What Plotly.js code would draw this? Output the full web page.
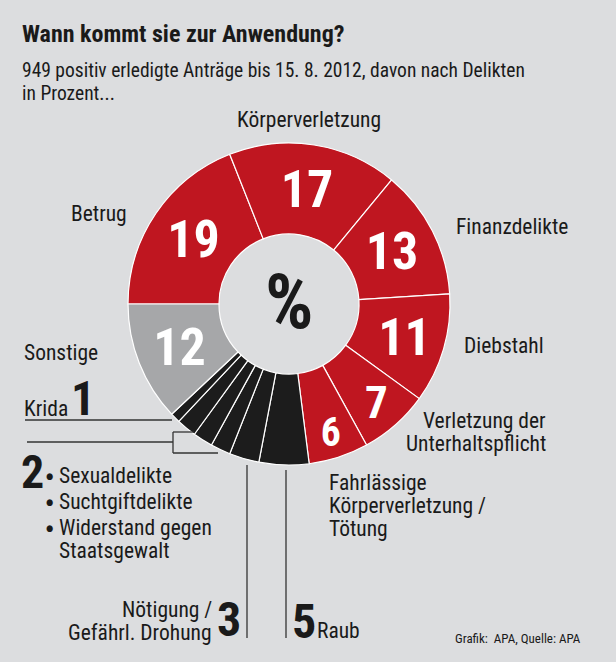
<!DOCTYPE html>
<html>
<head>
<meta charset="utf-8">
<script src="https://cdn.plot.ly/plotly-3.0.1.min.js"></script>
<style>
html,body{margin:0;padding:0;background:#dcdddf;}
#chart{width:616px;height:662px;}
</style>
</head>
<body>
<div id="chart"></div>
<script>
// Data (percent of 949 approved applications, by offence)
const categories = ["Betrug","Körperverletzung","Finanzdelikte","Diebstahl","Verletzung der Unterhaltspflicht","Fahrlässige Körperverletzung / Tötung","Raub","Nötigung / Gefährl. Drohung","Sexualdelikte","Suchtgiftdelikte","Widerstand gegen Staatsgewalt","Krida","Sonstige"];
const values = [19,17,13,11,7,6,5,3,2,2,2,1,12];
const groups = ["red","red","red","red","red","red","black","black","black","black","black","black","gray"];

const W = 616, H = 662;
const FONT = "'Roboto Condensed','DejaVu Sans Condensed',sans-serif";
const colorMap = {red:"#bf1620", black:"#1c1c1c", gray:"#a6a7a9"};
const cx = 289, cy = 304, R = 161;

const px = x => x / W;
const py = y => 1 - y / H;

const trace = {
  type: "pie",
  labels: categories,
  values: values,
  sort: false,
  direction: "clockwise",
  rotation: -90,
  hole: 0.435,
  marker: {colors: groups.map(g => colorMap[g]), line: {color: "#ffffff", width: 1.2}},
  text: values.map((v, i) => groups[i] === "black" ? "" : String(v)),
  textinfo: "text",
  textposition: "inside",
  insidetextorientation: "horizontal",
  insidetextfont: {family: FONT, size: 52, color: "#ffffff", weight: "bold"},
  hoverinfo: "label+value",
  showlegend: false,
  domain: {x: [px(cx - R), px(cx + R)], y: [py(cy + R), py(cy - R)]}
};

const ann = [];
function txt(x, y, text, size, opts) {
  ann.push(Object.assign({
    xref: "paper", yref: "paper", x: px(x), y: py(y), text: text, showarrow: false,
    xanchor: "left", yanchor: "middle",
    font: {family: FONT, size: size, color: "#1a1a1a"}
  }, opts || {}));
}

// Title / subtitle
txt(20, 34, "<b>Wann kommt sie zur Anwendung?</b>", 24);
txt(20, 70, "949 positiv erledigte Anträge bis 15. 8. 2012, davon nach Delikten", 19.5);
txt(20, 93, "in Prozent...", 19.5);

// centre symbol
txt(cx, 302, "<b>%</b>", 76, {xanchor: "center"});

// category labels
const LS = 21.5;
const R_ = {xanchor: "right"};
txt(309, 119, categories[1], LS, {xanchor: "center"});
txt(69, 213, categories[0], LS);
txt(454, 227, categories[2], LS);
txt(462, 345, categories[3], LS);
txt(548, 420, "Verletzung der", LS, R_);
txt(548, 443, "Unterhaltspflicht", LS, R_);
txt(327, 482, "Fahrlässige", LS);
txt(327, 505, "Körperverletzung /", LS);
txt(327, 528, "Tötung", LS);
txt(22, 353, categories[12], LS);
txt(22, 408, categories[11], LS);
txt(69, 398, "<b>" + values[11] + "</b>", 48);
txt(19, 472, "<b>" + values[8] + "</b>", 46);
const bullet = y => txt(49, y + 1, "●", 9, {xanchor: "center"});
bullet(475); bullet(501); bullet(527);
txt(57, 475, categories[8], LS);
txt(57, 501, categories[9], LS);
txt(57, 527, "Widerstand gegen", LS);
txt(57, 550, "Staatsgewalt", LS);
txt(214, 609, "Nötigung /", LS, R_);
txt(214, 632, "Gefährl. Drohung", LS, R_);
txt(215, 619, "<b>" + values[7] + "</b>", 48);
txt(290, 621, "<b>" + values[6] + "</b>", 48);
txt(315, 630, categories[6], LS);
txt(583, 638, "Grafik:  APA, Quelle: APA", 13, R_);

const lc = "#333333";
const ln = (x0, y0, x1, y1) => ({type: "line", xref: "paper", yref: "paper",
  x0: px(x0), y0: py(y0), x1: px(x1), y1: py(y1), line: {color: lc, width: 1.3}});
const shapes = [
  ln(25, 420, 172, 420),
  ln(27, 442, 173, 442),
  ln(173, 432, 173, 453),
  ln(173, 432, 194, 432),
  ln(173, 453, 218, 453),
  ln(247, 465, 247, 638),
  ln(286, 470, 286, 638)
];

const layout = {
  width: W, height: H,
  margin: {l: 0, r: 0, t: 0, b: 0},
  paper_bgcolor: "#dcdddf",
  plot_bgcolor: "#dcdddf",
  annotations: ann,
  shapes: shapes,
  font: {family: FONT}
};

Plotly.newPlot("chart", [trace], layout, {displayModeBar: false, staticPlot: true});
</script>
</body>
</html>
